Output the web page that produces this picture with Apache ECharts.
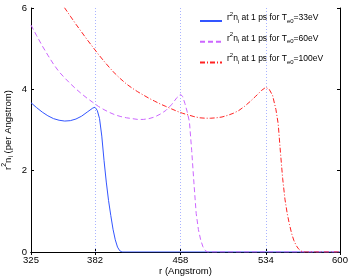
<!DOCTYPE html>
<html><head><meta charset="utf-8">
<script src="https://cdn.jsdelivr.net/npm/echarts@6/dist/echarts.min.js"></script>
<style>html,body{margin:0;padding:0;background:#fff}#c{width:352px;height:278px}</style>
</head><body><div id="c"></div>
<script>
const xTicks = [325, 382, 458, 534, 600];
const markR = [382, 458, 534];
const yTicks = [0, 2, 4, 6];
const temps = ['33', '60', '100'];

const rBlue = [325,330,335,340,345,350,355,360,365,370,375,380,382,384,386,388,390,392,394,396,398,400,402,404,406,600];
const vBlue = [3.67,3.55,3.44,3.35,3.28,3.24,3.22,3.23,3.27,3.34,3.44,3.54,3.56,3.48,3.28,2.85,2.25,1.72,1.27,0.9,0.56,0.3,0.12,0.03,0,0];

const rPurple = [325,330,335,340,345,350,355,360,365,370,375,380,385,390,395,400,405,410,415,420,425,430,435,440,445,450,455,458,460,462,464,466,468,470,472,474,476,478,480,482,600];
const vPurple = [5.58,5.32,5.07,4.84,4.62,4.43,4.28,4.14,4.01,3.89,3.78,3.68,3.58,3.5,3.43,3.37,3.33,3.3,3.28,3.26,3.26,3.28,3.32,3.39,3.48,3.62,3.8,3.88,3.82,3.65,3.45,3.2,2.5,1.7,0.95,0.55,0.3,0.13,0.04,0,0];

const rRed = [350,355,360,365,370,375,380,385,390,395,400,405,410,415,420,425,430,435,440,445,450,455,460,465,470,475,480,485,490,495,500,505,510,515,520,525,530,534,537,540,543,545,547,549,551,553,555,557,559,561,563,565,567,600];
const vRed = [6.22,6.0,5.8,5.6,5.41,5.22,5.04,4.86,4.69,4.53,4.38,4.25,4.13,4.03,3.94,3.86,3.78,3.71,3.64,3.58,3.52,3.46,3.41,3.37,3.33,3.3,3.29,3.29,3.3,3.32,3.36,3.41,3.48,3.58,3.7,3.83,3.97,4.05,4.0,3.85,3.5,3.15,2.45,1.8,1.3,0.95,0.68,0.45,0.28,0.16,0.08,0.03,0,0];

function pairs(r, v) { return r.map((x, i) => [x, v[i]]); }

const FONT = 'Liberation Sans';
const chart = echarts.init(document.getElementById('c'), null, {renderer: 'canvas'});

const axisCommon = {
  axisLine: {show: true, lineStyle: {color: '#000', width: 1}},
  axisTick: {show: true, inside: true, length: 3, lineStyle: {color: '#000'}},
  splitLine: {show: false}
};

chart.setOption({
  animation: false,
  backgroundColor: '#fff',
  grid: {left: 31, top: 8, width: 309, height: 244, containLabel: false, outerBoundsMode: 'none'},
  legend: {
    orient: 'vertical', left: 199, top: 11, itemGap: 3.2, padding: 0,
    itemWidth: 22, itemHeight: 10,
    itemStyle: {opacity: 0},
    data: temps,
    formatter: function (name) {
      return '{n|r}{sup|2}{n|n}{sub|i}{n| at 1 ps for T}{sub|e0}{n|=' + name + 'eV}\n{pad| }';
    },
    textStyle: {
      rich: {
        n: {fontSize: 8.5, fontFamily: FONT, color: '#000', lineHeight: 13, verticalAlign: 'middle'},
        sup: {fontSize: 6, fontFamily: FONT, color: '#000', lineHeight: 7, verticalAlign: 'top'},
        sub: {fontSize: 6, fontFamily: FONT, color: '#000', lineHeight: 7, verticalAlign: 'bottom'},
        pad: {fontSize: 2, lineHeight: 7}
      }
    }
  },
  xAxis: [
    Object.assign({}, axisCommon, {
      type: 'value', min: 325, max: 600, position: 'bottom',
      name: 'r (Angstrom)', nameLocation: 'middle', nameGap: 14, nameMoveOverlap: false,
      nameTextStyle: {fontSize: 9.5, fontFamily: FONT, color: '#000'},
      axisTick: {show: true, inside: true, length: 3, lineStyle: {color: '#000'}, customValues: xTicks},
      axisLabel: {show: true, fontSize: 9.5, fontFamily: FONT, color: '#000', margin: 3, customValues: xTicks}
    }),
    Object.assign({}, axisCommon, {
      type: 'value', min: 325, max: 600, position: 'top',
      axisTick: {show: true, inside: true, length: 3, lineStyle: {color: '#000'}, customValues: xTicks},
      axisLabel: {show: false}
    })
  ],
  yAxis: [
    Object.assign({}, axisCommon, {
      type: 'value', min: 0, max: 6, interval: 2, position: 'left',
      name: '{n|r}{sup|2}{n|n}{sub|i}{n| (per Angstrom)}', nameLocation: 'middle', nameGap: 16, nameMoveOverlap: false,
      nameTextStyle: {
        rich: {
          n: {fontSize: 9.5, fontFamily: FONT, color: '#000', lineHeight: 14, verticalAlign: 'middle'},
          sup: {fontSize: 7, fontFamily: FONT, color: '#000', lineHeight: 8, verticalAlign: 'top'},
          sub: {fontSize: 7, fontFamily: FONT, color: '#000', lineHeight: 8, verticalAlign: 'bottom'}
        }
      },
      axisLabel: {show: true, fontSize: 9.5, fontFamily: FONT, color: '#000', margin: 4}
    }),
    Object.assign({}, axisCommon, {
      type: 'value', min: 0, max: 6, interval: 2, position: 'right',
      axisLabel: {show: false}
    })
  ],
  series: [
    {
      name: temps[0], type: 'line', data: pairs(rBlue, vBlue), showSymbol: false, symbol: 'none',
      clip: true, z: 3,
      lineStyle: {color: '#3355ff', width: 1, type: 'solid'}, itemStyle: {color: '#3355ff'},
      markLine: {
        silent: true, symbol: 'none', label: {show: false},
        lineStyle: {color: '#aab4ff', width: 1, type: [1, 2]},
        data: markR.map(x => ({xAxis: x}))
      }
    },
    {
      name: temps[1], type: 'line', data: pairs(rPurple, vPurple), showSymbol: false, symbol: 'none',
      clip: true, z: 4,
      lineStyle: {color: '#cc66ff', width: 1, type: [5, 3]}, itemStyle: {color: '#cc66ff'}
    },
    {
      name: temps[2], type: 'line', data: pairs(rRed, vRed), showSymbol: false, symbol: 'none',
      clip: true, z: 5,
      lineStyle: {color: '#ff2222', width: 1, type: [5, 2, 1, 2]}, itemStyle: {color: '#ff2222'}
    }
  ]
});
</script></body></html>
